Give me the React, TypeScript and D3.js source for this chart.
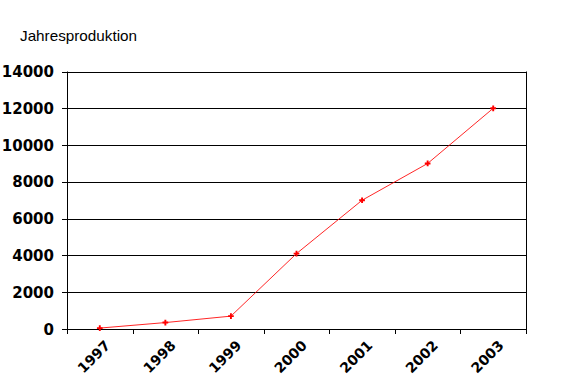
import React from "react";
import * as d3 from "d3";

const years = ["1997", "1998", "1999", "2000", "2001", "2002", "2003"];
const production = [50, 350, 700, 4100, 7000, 9000, 12000];
const yTicks = [0, 2000, 4000, 6000, 8000, 10000, 12000, 14000];
const title = "Jahresproduktion";

export default function App() {
  const W = 579, H = 383;
  const left = 67, right = 526, top = 71.5, bottom = 329;
  const x = d3.scaleBand<string>().domain(years).range([left, right]).padding(0);
  const y = d3.scaleLinear().domain([0, 14000]).range([bottom, top]);
  const line = d3
    .line<number>()
    .x((_, i) => (x(years[i]) as number) + x.bandwidth() / 2)
    .y((d) => y(d));
  const star = d3.symbol().type(d3.symbolCross).size(18)();
  const boundaries = years.map((yr) => x(yr) as number).concat([right]);

  return (
    <svg width={W} height={H} style={{ position: "absolute", left: 0, top: 0, background: "#fff" }}>
      <rect x={0} y={0} width={W} height={H} fill="#fff" />
      <text x={20} y={40.5} fontFamily="Liberation Sans, Arial, sans-serif" fontSize={15} fill="#000" textLength={117} lengthAdjust="spacingAndGlyphs">
        {title}
      </text>
      {yTicks.map((t) => (
        <g key={t}>
          {t > 0 && (
            <line x1={left} x2={right} y1={Math.round(y(t)) + 0.5} y2={Math.round(y(t)) + 0.5} stroke="#000" strokeWidth={1} />
          )}
          <line x1={left - 5} x2={left} y1={Math.round(y(t)) + 0.5} y2={Math.round(y(t)) + 0.5} stroke="#000" strokeWidth={1} />
          <text x={54} y={y(t) + 5.5} textAnchor="end" fontFamily="DejaVu Sans, Verdana, sans-serif" fontWeight="bold" fontSize={15} fill="#000">
            {t}
          </text>
        </g>
      ))}
      <line x1={left + 0.5} x2={left + 0.5} y1={top} y2={bottom + 0.5} stroke="#000" strokeWidth={1} />
      <line x1={right + 0.5} x2={right + 0.5} y1={top} y2={bottom + 0.5} stroke="#000" strokeWidth={1} />
      <line x1={left} x2={right + 1} y1={Math.round(bottom) + 0.5} y2={Math.round(bottom) + 0.5} stroke="#000" strokeWidth={1} />
      {boundaries.map((b, i) => (
        <line key={i} x1={Math.round(b) + 0.5} x2={Math.round(b) + 0.5} y1={bottom} y2={bottom + 5} stroke="#000" strokeWidth={1} />
      ))}
      {years.map((yr) => {
        const cx = (x(yr) as number) + x.bandwidth() / 2;
        return (
          <text
            key={yr}
            transform={`translate(${cx + 4},${bottom + 10}) rotate(-45)`}
            textAnchor="end"
            dominantBaseline="hanging"
            fontFamily="DejaVu Sans, Verdana, sans-serif"
            fontWeight="bold"
            fontSize={14}
            fill="#000"
          >
            {yr}
          </text>
        );
      })}
      <path d={line(production) || ""} fill="none" stroke="#ff0000" strokeWidth={1} strokeOpacity={0.85} />
      {production.map((v, i) => (
        <path
          key={i}
          d={star || ""}
          transform={`translate(${(x(years[i]) as number) + x.bandwidth() / 2},${y(v)})`}
          fill="#ff0000"
        />
      ))}
    </svg>
  );
}
